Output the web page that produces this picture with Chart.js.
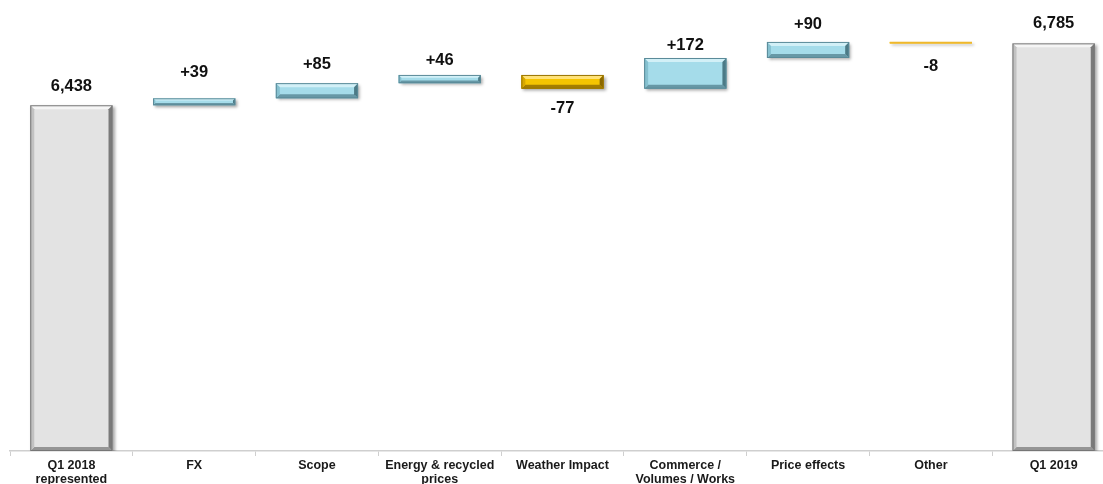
<!DOCTYPE html>
<html>
<head>
<meta charset="utf-8">
<script src="https://cdn.jsdelivr.net/npm/chart.js@4.4.1/dist/chart.umd.min.js"></script>
<style>
  html, body { margin: 0; padding: 0; overflow: hidden; background: #ffffff; }
  #wrap { position: absolute; left: 0; top: 0; width: 1115px; height: 484px; }
</style>
</head>
<body>
<div id="wrap"><canvas id="c"></canvas></div>
<script>
// ---- data ----
const categories = [
  ['Q1 2018', 'represented'], 'FX', 'Scope', ['Energy & recycled', 'prices'],
  'Weather Impact', ['Commerce /', 'Volumes / Works'], 'Price effects', 'Other', 'Q1 2019'
];
const startTotal = 6438;
const deltas = [39, 85, 46, -77, 172, 90, -8];
const endTotal = 6785;
const valueLabels = ['6,438', '+39', '+85', '+46', '-77', '+172', '+90', '-8', '6,785'];
const axisMin = 4500;
const axisMax = 7000;

// ---- style: gap between bar edge and its value label (px) ----
const labelGap = [19, 26, 19, 14, 20, 13, 17, 23, 20];

// ---- build floating ranges from the data ----
const ranges = [[axisMin, startTotal]];
const kinds = ['total'];
let running = startTotal;
deltas.forEach(d => {
  ranges.push([running, running + d]);
  kinds.push(d >= 0 ? 'up' : 'down');
  running += d;
});
ranges.push([axisMin, endTotal]);
kinds.push('total');

const palette = {
  total: { face: '#e3e3e3', top: '#f5f5f5', left: '#c2c2c2', right: '#7a7a7a', bottom: '#959595', stroke: '#767676' },
  up:    { face: '#a5dcea', top: '#d2f0f7', left: '#86c1d0', right: '#4c7a86', bottom: '#6798a6', stroke: '#5a8a98' },
  down:  { face: '#f5c400', top: '#ffe277', left: '#d7a800', right: '#8a6800', bottom: '#a47d00', stroke: '#987300' }
};

const bevelPlugin = {
  id: 'bevel',
  beforeDatasetDraw(chart) {
    const ctx = chart.ctx;
    ctx.save();
    ctx.shadowColor = 'rgba(0,0,0,0.35)';
    ctx.shadowBlur = 3;
    ctx.shadowOffsetX = 2;
    ctx.shadowOffsetY = 2;
  },
  afterDatasetDraw(chart) {
    const ctx = chart.ctx;
    ctx.restore();
    const meta = chart.getDatasetMeta(0);
    meta.data.forEach((bar, i) => {
      const p = bar.getProps(['x', 'y', 'base', 'width'], true);
      const l = p.x - p.width / 2, r = p.x + p.width / 2;
      const t = Math.min(p.y, p.base), b = Math.max(p.y, p.base);
      const h = b - t;
      const c = palette[kinds[i]];
      if (h >= 3) {
        const bv = Math.min(4, h / 3);
        const poly = (pts, col) => {
          ctx.beginPath();
          ctx.moveTo(pts[0][0], pts[0][1]);
          for (let k = 1; k < pts.length; k++) ctx.lineTo(pts[k][0], pts[k][1]);
          ctx.closePath();
          ctx.fillStyle = col;
          ctx.fill();
        };
        poly([[l, t], [r, t], [r - bv, t + bv], [l + bv, t + bv]], c.top);
        poly([[l, b], [r, b], [r - bv, b - bv], [l + bv, b - bv]], c.bottom);
        poly([[l, t], [l + bv, t + bv], [l + bv, b - bv], [l, b]], c.left);
        poly([[r, t], [r - bv, t + bv], [r - bv, b - bv], [r, b]], c.right);
        ctx.strokeStyle = c.stroke;
        ctx.lineWidth = 1;
        ctx.strokeRect(l + 0.5, t + 0.5, p.width - 1, h - 1);
      } else {
        // very thin bar: draw as a thin gold line
        ctx.strokeStyle = '#efb82c';
        ctx.lineWidth = 2;
        ctx.beginPath();
        ctx.moveTo(l, (t + b) / 2);
        ctx.lineTo(r, (t + b) / 2);
        ctx.stroke();
      }
      // value label
      ctx.fillStyle = '#111111';
      ctx.font = 'bold 16.5px "Liberation Sans", Arial, sans-serif';
      ctx.textAlign = 'center';
      ctx.textBaseline = 'middle';
      if (kinds[i] === 'down') {
        ctx.fillText(valueLabels[i], p.x, b + labelGap[i]);
      } else {
        ctx.fillText(valueLabels[i], p.x, t - labelGap[i]);
      }
    });
  }
};

new Chart(document.getElementById('c'), {
  type: 'bar',
  data: {
    labels: categories,
    datasets: [{
      data: ranges,
      backgroundColor: kinds.map(k => palette[k].face),
      borderWidth: 0,
      borderSkipped: false,
      barPercentage: 0.67,
      categoryPercentage: 1.0
    }]
  },
  options: {
    responsive: true,
    maintainAspectRatio: false,
    animation: false,
    layout: { padding: { left: 10, right: 0, top: 5, bottom: 0 } },
    plugins: { legend: { display: false }, tooltip: { enabled: false } },
    scales: {
      x: {
        afterFit: (scale) => { scale.height = 33; },
        grid: { display: true, drawOnChartArea: false, drawTicks: true, tickLength: 5, color: '#cfcfcf', offset: true },
        border: { display: true, color: '#cfcfcf', width: 1.5 },
        ticks: {
          color: '#1a1a1a',
          padding: 2,
          maxRotation: 0,
          autoSkip: false,
          font: { family: '"Liberation Sans", Arial, sans-serif', size: 12.5, weight: 'bold', lineHeight: 1.15 }
        }
      },
      y: {
        display: false,
        min: axisMin,
        max: axisMax
      }
    }
  },
  plugins: [bevelPlugin]
});
</script>
</body>
</html>
